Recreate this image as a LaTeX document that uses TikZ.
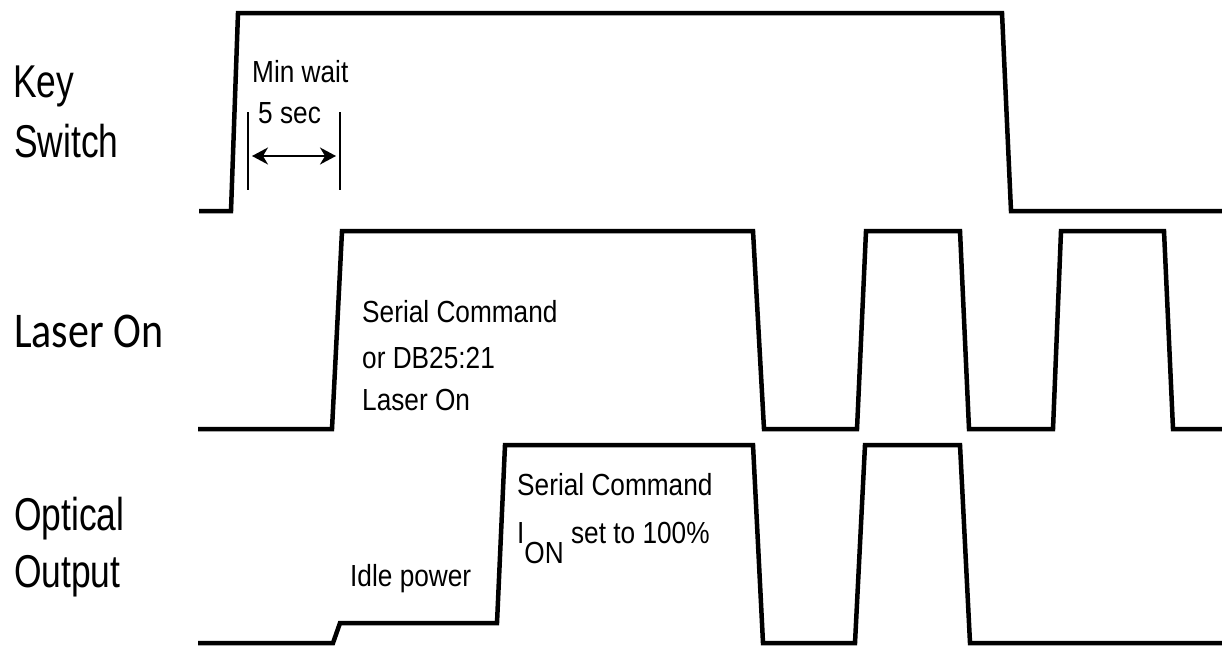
\documentclass[tikz,border=0pt]{standalone}
\usepackage{fontspec}
\usetikzlibrary{arrows.meta}
\newfontfamily\bigf[FakeStretch=0.77]{Liberation Sans}
\newfontfamily\calf[FakeStretch=0.84]{Carlito}
\newfontfamily\smf[FakeStretch=0.86]{Liberation Sans}
\tikzset{
  wave/.style={line width=4.5pt, line join=miter},
  tick/.style={line width=2pt},
  dimarrow/.style={line width=1.8pt, {Stealth[length=16pt,width=17pt,inset=5pt]}-{Stealth[length=16pt,width=17pt,inset=5pt]}},
  biglab/.style={anchor=base west, inner sep=0pt, font=\bigf\fontsize{46}{50}\selectfont},
  callab/.style={anchor=base west, inner sep=0pt, font=\calf\fontsize{50}{54}\selectfont},
  smlab/.style={anchor=base west, inner sep=0pt, font=\smf\fontsize{30.5}{34}\selectfont},
}
\begin{document}
\begin{tikzpicture}[x=1pt,y=-1pt]
\useasboundingbox (0,0) rectangle (1222,648);
% signal labels
\node[biglab] (key) at (13,97) {Key};
\node[biglab] (switch) at (14,157) {Switch};
\node[callab] (laseron) at (14,347) {Laser On};
\node[biglab] (optical) at (14,530) {Optical};
\node[biglab] (output) at (14,587) {Output};
% waveforms
\draw[wave] (199,211) -- (231,211) -- (238,13) -- (1002,13) -- (1011,211) -- (1226,211);
\draw[wave] (198,429) -- (332,429) -- (342,231) -- (753,231) -- (764,429) -- (857,429)
  -- (866,231) -- (960,231) -- (969,429) -- (1053,429) -- (1061,231) -- (1164,231)
  -- (1173,429) -- (1226,429);
\draw[wave] (198,643) -- (333,643) -- (340,623) -- (497,623) -- (505,445) -- (753,445)
  -- (763,643) -- (855,643) -- (865,445) -- (960,445) -- (970,643) -- (1226,643);
% min wait dimension
\coordinate (t1a) at (248,112); \coordinate (t1b) at (248,190);
\coordinate (t2a) at (340,112); \coordinate (t2b) at (340,190);
\draw[tick] (t1a) -- (t1b);
\draw[tick] (t2a) -- (t2b);
\coordinate (a1) at (252,156); \coordinate (a2) at (336,156);
\draw[dimarrow] (a1) -- (a2);
\node[smlab] (minwait) at (252,82) {Min wait};
\node[smlab] (fivesec) at (258,123) {5 sec};
% laser on annotations
\node[smlab] (sc1) at (362,322) {Serial Command};
\node[smlab] (db) at (362,368) {or DB25:21};
\node[smlab] (lo) at (362,410) {Laser On};
% optical annotations
\node[smlab] (sc2) at (517,495) {Serial Command};
\node[smlab] (ion) at (517,543) {I\raisebox{-20pt}{ON} set to 100\%};
\node[smlab] (idle) at (350,586) {Idle power};
\end{tikzpicture}
\end{document}
